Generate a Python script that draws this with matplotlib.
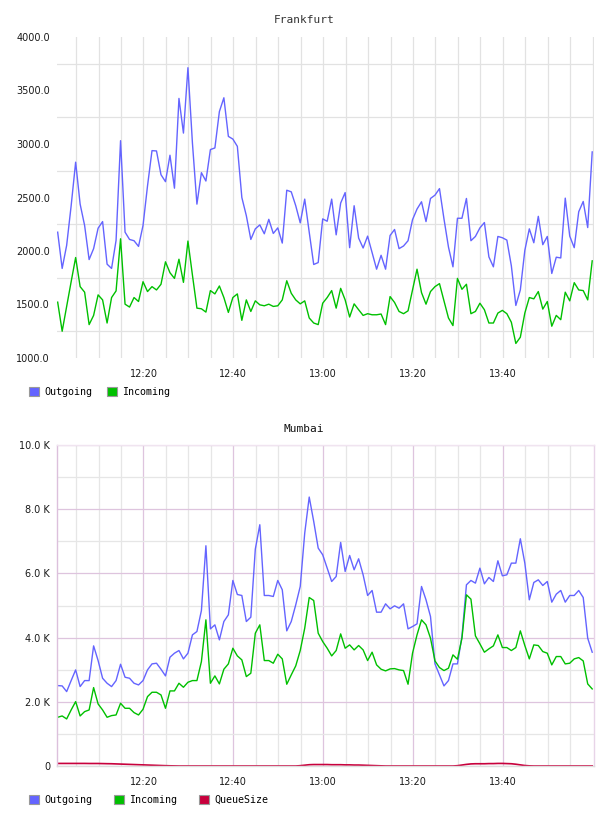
import matplotlib
matplotlib.use("Agg")
import matplotlib.pyplot as plt
import matplotlib.dates as mdates
from matplotlib.patches import Patch
from matplotlib.ticker import FixedLocator, FuncFormatter
import numpy as np

# one sample per minute, 12:00:54 .. 13:59:54
start = np.datetime64("2024-01-01T12:00:54")
times = start + np.arange(120) * np.timedelta64(60, "s")
tick_times = np.array(["2024-01-01T12:20", "2024-01-01T12:40", "2024-01-01T13:00",
                       "2024-01-01T13:20", "2024-01-01T13:40"], dtype="datetime64[s]")

frankfurt_out = [
    2176, 1837, 2053, 2423, 2830, 2438, 2238, 1920, 2022, 2213,
    2275, 1877, 1837, 2099, 3031, 2176, 2108, 2096, 2043, 2238,
    2608, 2938, 2935, 2713, 2648, 2895, 2587, 3426, 3102, 3713,
    3009, 2438, 2732, 2654, 2948, 2963, 3303, 3432, 3071, 3046,
    2978, 2500, 2330, 2108, 2207, 2244, 2161, 2296, 2164, 2216,
    2074, 2568, 2553, 2423, 2263, 2485, 2176, 1874, 1892, 2300,
    2278, 2485, 2151, 2448, 2546, 2031, 2423, 2121, 2028, 2139,
    1985, 1830, 1960, 1830, 2145, 2201, 2022, 2047, 2096, 2293,
    2392, 2460, 2275, 2491, 2522, 2583, 2300, 2037, 1852, 2306,
    2306, 2491, 2096, 2136, 2216, 2266, 1945, 1852, 2136, 2124,
    2102, 1861, 1491, 1636, 2006, 2207, 2077, 2324, 2059, 2136,
    1790, 1942, 1935, 2494, 2139, 2031, 2367, 2463, 2219, 2926,
]
frankfurt_in = [
    1522, 1250, 1482, 1713, 1939, 1667, 1615, 1312, 1398, 1590,
    1543, 1327, 1565, 1627, 2114, 1503, 1476, 1565, 1528, 1713,
    1621, 1667, 1636, 1689, 1899, 1797, 1744, 1923, 1707, 2093,
    1775, 1466, 1460, 1429, 1630, 1599, 1673, 1565, 1426, 1565,
    1599, 1352, 1543, 1435, 1534, 1497, 1488, 1503, 1482, 1488,
    1543, 1722, 1605, 1543, 1506, 1534, 1374, 1327, 1312, 1512,
    1565, 1630, 1466, 1651, 1543, 1383, 1506, 1451, 1398, 1414,
    1404, 1404, 1411, 1312, 1574, 1519, 1435, 1414, 1441, 1636,
    1830, 1611, 1503, 1621, 1667, 1695, 1534, 1374, 1303, 1744,
    1642, 1689, 1414, 1435, 1512, 1451, 1327, 1327, 1420, 1445,
    1414, 1334, 1136, 1194, 1420, 1565, 1553, 1621, 1457, 1528,
    1297, 1398, 1358, 1615, 1534, 1704, 1636, 1630, 1543, 1908,
]

# Mumbai values in thousands
mumbai_out = [
    2.505, 2.495, 2.318, 2.661, 2.994, 2.474, 2.661, 2.661, 3.742, 3.285,
    2.734, 2.578, 2.474, 2.661, 3.170, 2.765, 2.734, 2.578, 2.526, 2.661,
    2.994, 3.181, 3.202, 3.015, 2.807, 3.389, 3.514, 3.597, 3.337, 3.514,
    4.085, 4.189, 4.844, 6.861, 4.272, 4.397, 3.929, 4.501, 4.709, 5.780,
    5.343, 5.312, 4.501, 4.636, 6.757, 7.516, 5.312, 5.312, 5.281, 5.780,
    5.489, 4.210, 4.501, 5.021, 5.593, 7.256, 8.378, 7.620, 6.788, 6.580,
    6.164, 5.748, 5.904, 6.965, 6.060, 6.559, 6.112, 6.455, 5.956, 5.312,
    5.468, 4.792, 4.792, 5.052, 4.896, 4.990, 4.917, 5.052, 4.272, 4.345,
    4.428, 5.593, 5.177, 4.657, 3.181, 2.838, 2.495, 2.661, 3.181, 3.181,
    4.033, 5.644, 5.780, 5.697, 6.164, 5.676, 5.873, 5.748, 6.393, 5.925,
    5.956, 6.320, 6.320, 7.079, 6.320, 5.177, 5.717, 5.800, 5.624, 5.748,
    5.104, 5.353, 5.468, 5.104, 5.312, 5.312, 5.468, 5.249, 3.981, 3.545,
]
mumbai_in = [
    1.518, 1.559, 1.466, 1.746, 2.006, 1.559, 1.694, 1.746, 2.443, 1.933,
    1.746, 1.518, 1.570, 1.590, 1.954, 1.798, 1.798, 1.663, 1.590, 1.767,
    2.162, 2.297, 2.297, 2.214, 1.798, 2.339, 2.339, 2.578, 2.453, 2.609,
    2.661, 2.661, 3.254, 4.553, 2.578, 2.807, 2.557, 3.015, 3.181, 3.669,
    3.430, 3.306, 2.786, 2.890, 4.137, 4.397, 3.285, 3.285, 3.202, 3.482,
    3.337, 2.547, 2.838, 3.119, 3.597, 4.293, 5.249, 5.156, 4.137, 3.877,
    3.669, 3.430, 3.597, 4.116, 3.669, 3.773, 3.617, 3.753, 3.617, 3.285,
    3.545, 3.150, 3.015, 2.963, 3.025, 3.035, 2.994, 2.973, 2.547, 3.514,
    4.085, 4.553, 4.397, 3.981, 3.274, 3.067, 2.973, 3.046, 3.462, 3.326,
    3.981, 5.333, 5.198, 4.054, 3.805, 3.545, 3.649, 3.742, 4.085, 3.690,
    3.690, 3.597, 3.690, 4.210, 3.753, 3.337, 3.773, 3.753, 3.565, 3.514,
    3.150, 3.410, 3.410, 3.181, 3.202, 3.337, 3.378, 3.274, 2.557, 2.401,
]
mumbai_queue = [
    0.080, 0.080, 0.080, 0.080, 0.080, 0.080, 0.080, 0.078, 0.078, 0.078,
    0.075, 0.072, 0.070, 0.065, 0.060, 0.055, 0.050, 0.045, 0.040, 0.035,
    0.030, 0.025, 0.020, 0.015, 0.010, 0.006, 0.003, 0.0, 0.0, 0.0,
    0.0, 0.0, 0.0, 0.0, 0.0, 0.0, 0.0, 0.0, 0.0, 0.0,
    0.0, 0.0, 0.0, 0.0, 0.0, 0.0, 0.0, 0.0, 0.0, 0.0,
    0.0, 0.0, 0.0, 0.0, 0.010, 0.025, 0.040, 0.045, 0.045, 0.045,
    0.045, 0.040, 0.040, 0.040, 0.035, 0.035, 0.030, 0.030, 0.025, 0.020,
    0.015, 0.010, 0.005, 0.0, 0.0, 0.0, 0.0, 0.0, 0.0, 0.0,
    0.0, 0.0, 0.0, 0.0, 0.0, 0.0, 0.0, 0.0, 0.0, 0.010,
    0.030, 0.050, 0.065, 0.070, 0.070, 0.070, 0.075, 0.075, 0.080, 0.080,
    0.075, 0.070, 0.055, 0.035, 0.015, 0.005, 0.0, 0.0, 0.0, 0.0,
    0.0, 0.0, 0.0, 0.0, 0.0, 0.0, 0.0, 0.0, 0.0, 0.0,
]

BLUE = "#6464ff"
GREEN = "#00c000"
RED = "#c8003c"
x_lo = np.datetime64("2024-01-01T12:00:45")
x_hi = np.datetime64("2024-01-01T14:00:18")

fig = plt.figure(figsize=(6.08, 8.16), dpi=100)
mono = "DejaVu Sans Mono"


def setup_time_axis(ax, minor_minutes):
    ax.set_xlim(x_lo, x_hi)
    ax.xaxis.set_major_locator(FixedLocator(mdates.date2num(tick_times)))
    ax.xaxis.set_minor_locator(mdates.MinuteLocator(byminute=minor_minutes))
    ax.xaxis.set_major_formatter(mdates.DateFormatter("%H:%M"))
    ax.tick_params(axis="both", which="both", length=0, labelsize=7, colors="#1a1a1a")
    ax.tick_params(axis="x", pad=8)
    ax.tick_params(axis="y", pad=5)
    ax.set_axisbelow(True)


# ---- Frankfurt ----
ax1 = fig.add_axes([57 / 608, 1 - 358 / 816, 537 / 608, 321 / 816])
ax1.plot(times, frankfurt_out, color=BLUE, lw=1.0)
ax1.plot(times, frankfurt_in, color=GREEN, lw=1.0)
setup_time_axis(ax1, list(range(0, 60, 5)))
ax1.set_ylim(1000, 4000)
ax1.set_yticks(np.arange(1000, 4001, 500))
ax1.yaxis.set_major_formatter(FuncFormatter(lambda v, p: f"{v:.1f}"))
ax1.yaxis.set_minor_locator(FixedLocator(np.arange(1250, 4000, 500)))
ax1.grid(False)
ax1.grid(True, axis="x", which="both", color="#e2e2e2", lw=0.9)
ax1.grid(True, axis="y", which="minor", color="#e2e2e2", lw=0.9)
for s in ax1.spines.values():
    s.set_visible(False)
fig.text(304 / 608, 1 - 20 / 816, "Frankfurt", ha="center", va="center",
         fontsize=8, family=mono, color="#333333")
fig.legend(handles=[Patch(facecolor=BLUE, edgecolor="#999999", lw=0.8, label="Outgoing"),
                    Patch(facecolor=GREEN, edgecolor="#999999", lw=0.8, label="Incoming")],
           loc="center left", bbox_to_anchor=(24 / 608, 1 - 392 / 816), ncol=2,
           frameon=False, borderpad=0, handlelength=1.0, handleheight=1.0,
           handletextpad=0.5, columnspacing=1.5, prop={"family": mono, "size": 7.2})

# ---- Mumbai ----
ax2 = fig.add_axes([57 / 608, 1 - 766 / 816, 537 / 608, 321 / 816])
ax2.plot(times, mumbai_out, color=BLUE, lw=1.0)
ax2.plot(times, mumbai_in, color=GREEN, lw=1.0)
ax2.plot(times, mumbai_queue, color=RED, lw=1.2)
setup_time_axis(ax2, [5, 10, 15, 25, 30, 35, 45, 50, 55])
ax2.set_ylim(0, 10)
ax2.set_yticks(np.arange(0, 10.1, 2))
ax2.yaxis.set_major_formatter(FuncFormatter(lambda v, p: "0" if v == 0 else f"{v:.1f} K"))
ax2.yaxis.set_minor_locator(FixedLocator(np.arange(1, 10, 2)))
ax2.grid(True, axis="both", which="minor", color="#e6e6e6", lw=0.9)
ax2.grid(True, axis="both", which="major", color="#dec4de", lw=0.9)
ax2.spines["left"].set_color("#dcc0dc")
ax2.spines["right"].set_color("#e8d4e8")
ax2.spines["top"].set_color("#f0e4f0")
ax2.spines["bottom"].set_color("#dddddd")
for s in ax2.spines.values():
    s.set_linewidth(1.0)
fig.text(304 / 608, 1 - 429 / 816, "Mumbai", ha="center", va="center",
         fontsize=8, family=mono, color="#111111")
fig.legend(handles=[Patch(facecolor=BLUE, edgecolor="#999999", lw=0.8, label="Outgoing"),
                    Patch(facecolor=GREEN, edgecolor="#999999", lw=0.8, label="Incoming"),
                    Patch(facecolor=RED, edgecolor="#999999", lw=0.8, label="QueueSize")],
           loc="center left", bbox_to_anchor=(24 / 608, 1 - 800 / 816), ncol=3,
           frameon=False, borderpad=0, handlelength=1.0, handleheight=1.0,
           handletextpad=0.5, columnspacing=2.2, prop={"family": mono, "size": 7.2})

fig.savefig("out.png", dpi=100, facecolor="white")
